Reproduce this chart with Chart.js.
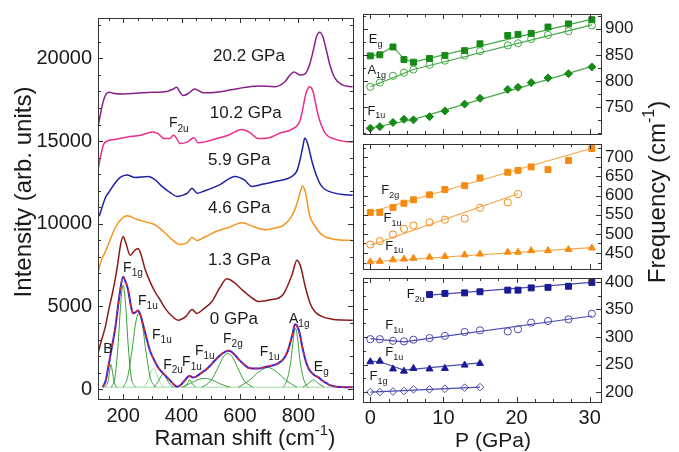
<!DOCTYPE html>
<html>
<head>
<meta charset="utf-8">
<title>Raman spectra under pressure</title>
<script src="https://cdn.jsdelivr.net/npm/chart.js@4.4.1/dist/chart.umd.min.js"></script>
<style>
  body { margin: 0; background: #fff; }
  .fig { position: relative; width: 679px; height: 452px; }
  .fig canvas { position: absolute; left: 0; top: 0; }
</style>
</head>
<body>
<div class="fig">
  <canvas id="spectra" width="679" height="452"></canvas>
  <canvas id="freqTop" width="679" height="452"></canvas>
  <canvas id="freqMid" width="679" height="452"></canvas>
  <canvas id="freqBot" width="679" height="452"></canvas>
</div>
<script>
const FONT = '"Liberation Sans", Arial, Helvetica, sans-serif';
Chart.defaults.font.family = FONT;
Chart.defaults.color = '#1a1a1a';
Chart.defaults.animation = false;
Chart.defaults.responsive = false;
Chart.defaults.plugins.legend.display = false;
Chart.defaults.plugins.tooltip.enabled = false;

// ---------- left panel: spectra, [Raman shift cm-1, intensity] ----------
const ramanTicks = [200, 400, 600, 800];
const intensityTicks = [0, 5000, 10000, 15000, 20000];

const spec20_2 = [[114,15850],[122,16600],[132,17400],[142,17850],[152,17950],[170,17880],[200,17850],[250,17900],[300,17950],[350,18000],[372,18150],[383,18250],[395,17950],[406,17750],[425,17900],[445,18150],[458,18050],[475,17920],[520,17950],[570,18100],[620,18250],[665,18330],[720,18290],[754,18590],[771,18990],[785,19180],[805,19000],[822,19050],[838,19600],[850,20400],[862,21300],[873,21580],[884,21300],[893,20700],[908,19600],[925,18800],[950,18400],[986,18280]];
const spec10_2 = [[114,13250],[122,14000],[132,14750],[145,15000],[170,15100],[215,15250],[260,15350],[300,15550],[320,15450],[340,15150],[360,15150],[372,15350],[380,15250],[395,14850],[420,14950],[443,15200],[456,14900],[480,14950],[520,15150],[560,15350],[607,15700],[635,15500],[663,15150],[700,15200],[740,15500],[777,15710],[805,16210],[828,17990],[839,18290],[850,17990],[867,16610],[890,15530],[925,15120],[960,14980],[986,14940]];
const spec5_9 = [[118,10450],[128,11000],[140,11600],[155,12000],[170,12400],[190,12800],[213,12950],[241,12800],[286,12860],[310,12650],[333,12260],[360,11900],[385,11650],[400,11700],[420,11850],[436,12150],[453,11850],[480,12000],[530,12350],[583,12860],[615,12650],[641,12260],[680,12400],[720,12560],[778,12860],[795,13200],[805,13810],[815,14640],[822,15180],[832,14820],[846,13810],[863,12860],[880,12260],[925,11850],[960,11760],[986,11730]];
const spec4_6 = [[114,6950],[122,7600],[138,8270],[155,9000],[173,9760],[195,10300],[213,10480],[251,10240],[280,10100],[309,9940],[340,9500],[367,9050],[395,8750],[419,8850],[436,9170],[453,8990],[480,9200],[520,9550],[559,9760],[607,10060],[650,9800],[686,9640],[720,9750],[747,9880],[778,10480],[795,11200],[806,11900],[814,12280],[824,11900],[839,10480],[856,9880],[880,9340],[925,9050],[986,8990]];
const spec1_3 = [[114,2150],[125,2900],[138,3690],[152,4900],[166,6010],[180,7400],[192,8800],[200,9230],[210,8800],[224,8090],[240,8400],[251,8510],[262,8100],[275,7260],[292,6500],[309,5890],[330,5300],[344,4880],[365,4450],[388,4170],[415,4400],[436,4820],[453,4580],[475,4850],[504,5300],[530,6100],[555,6670],[580,6450],[607,6010],[635,5600],[663,5300],[705,5400],[747,5710],[778,6900],[795,7800],[808,7400],[822,6310],[840,5200],[856,4700],[880,4400],[915,4230],[950,4180],[986,4170]];
const spec0 = [[130,120],[140,500],[149,1310],[160,2400],[173,3690],[187,5600],[200,6790],[208,6500],[217,6010],[226,5100],[234,4580],[243,4650],[251,4760],[259,4500],[268,3930],[280,3100],[292,2320],[305,1800],[320,1310],[337,950],[354,650],[370,350],[385,150],[400,300],[412,540],[422,750],[429,800],[438,700],[450,760],[465,950],[480,1130],[497,1400],[514,1730],[532,2050],[549,2260],[560,2320],[572,2250],[593,1850],[610,1550],[627,1310],[645,1250],[663,1250],[680,1310],[696,1370],[714,1450],[730,1550],[748,1800],[764,2320],[775,3000],[781,3390],[788,3930],[795,3850],[805,3330],[813,2600],[822,1900],[830,1450],[839,1130],[856,830],[870,700],[880,540],[895,380],[908,240],[930,150],[960,120],[986,110]];

// fitted components of the 0 GPa spectrum
const peakB    = [[138,120],[148,450],[154,1100],[158,1500],[163,1100],[169,450],[178,120]];
const peakF1g  = [[160,120],[172,700],[182,2500],[192,5200],[200,6300],[208,5200],[218,2500],[228,700],[242,120]];
const peakF1uA = [[200,120],[215,700],[230,2300],[243,4000],[254,4600],[265,4000],[278,2300],[293,700],[310,120]];
const peakF1uB = [[270,120],[285,500],[298,1150],[305,1250],[313,1000],[325,450],[340,120]];
const peakF2u  = [[305,120],[320,450],[332,850],[338,900],[348,650],[360,300],[372,120]];
const peakF1uC = [[410,120],[420,350],[428,580],[436,350],[448,120]];
const peakF1uD = [[400,120],[430,350],[460,600],[480,650],[505,550],[535,300],[565,120]];
const peakF2g  = [[470,120],[500,500],[525,1300],[545,2000],[558,2150],[572,2000],[592,1300],[615,500],[645,120]];
const peakF1uE = [[595,120],[630,500],[665,1050],[696,1310],[725,1050],[760,500],[795,120]];
const peakA1g  = [[748,120],[762,600],[775,1800],[783,3100],[790,3690],[797,3100],[805,1800],[818,600],[832,120]];
const peakEg   = [[815,120],[835,350],[852,560],[868,350],[888,120]];
const fitBase  = [[130,120],[986,120]];

// ---------- right panels: mode frequency (cm-1) vs pressure (GPa) ----------
const pressure = [0, 1.3, 3.1, 4.6, 5.9, 8.1, 10.2, 12.9, 15.0, 18.8, 20.2, 22.0, 24.3, 27.1, 30.3];
const pressureTicks = [0, 10, 20, 30];

const topEg   = [848, 850, 865, 841, 836, 843, 849, 858, 871, 887, 889, 891, 903, 909, 917];
const topA1g  = [789, 797, 810, 816, 822, 831, 839, 849, 857, 868, 872, 880, 888, 895, 906];
const topF1u  = [710, 713, 721, 727, 726, 732, 743, 756, 767, 784, 788, 797, 806, 814, 827];
const midF2g  = [556, 556, 569, 580, 589, 602, 616, 626, 646, 661, 666, 675, 668, 692, 723];
const midF1uA = [472, 481, 498, 513, 522, 530, 537, 540, 568, 582, 604, null, null, null, null];
const midF1uB = [427, 428, 432, 434, 436, 439, 441, 445, 447, 452, 452, 456, 456, 459, 463];
const botF2u  = [null, null, null, null, null, 377, 379, 380, 382, 385, 385, 389, 390, 392, 399];
const botF1uA = [296, 296, 293, 292, 295, 298, 302, 309, 312, 310, 314, 326, 329, 332, 342];
const botF1uB = [255, 256, 242, 238, 243, 242, 243, 249, 252, null, null, null, null, null, null];
const botF1g  = [200, 200, 201, 202, 205, 205, 206, 208, 209, null, null, null, null, null, null];

// guide lines through the points, [P, frequency]
const lineEg   = [[0,848],[1.3,851],[3.1,866],[4.6,842],[5.9,836],[30.3,918]];
const lineA1g  = [[0,789],[5.9,822],[30.3,907]];
const lineF1uT = [[0,710],[5.9,727],[30.3,828]];
const lineF2g  = [[0,557],[30.3,724]];
const lineF1uM = [[0,470],[20.2,605]];
const lineF1uL = [[0,427],[30.3,464]];
const lineF2u  = [[8.1,376],[30.3,399]];
const lineF1uB = [[0,297],[4.6,291],[30.3,338]];
const lineF1uR = [[0,256],[1.3,255],[4.6,240],[15,253]];
const lineF1g  = [[0,200],[15,209]];

const freqTicksTop = [750, 800, 850, 900];
const freqTicksMid = [450, 500, 550, 600, 650, 700];
const freqTicksBot = [200, 250, 300, 350, 400];

// ---------- helpers ----------
const xy = pts => pts.map(([x, y]) => ({ x, y }));
const byP = vals => pressure.map((p, i) => ({ x: p, y: vals[i] })).filter(d => d.y !== null);
const plain = v => String(v);

function richText(ctx, x, y, parts, size, align, angle) {
  const small = Math.round(size * 0.68);
  const fontOf = p => `${p.sub || p.sup ? small : size}px ${FONT}`;
  let total = 0;
  parts.forEach(p => { ctx.font = fontOf(p); p.w = ctx.measureText(p.t).width; total += p.w; });
  ctx.save();
  ctx.translate(x, y);
  if (angle) ctx.rotate(angle);
  ctx.textAlign = 'left';
  ctx.textBaseline = 'alphabetic';
  let cx = align === 'center' ? -total / 2 : 0;
  parts.forEach(p => {
    ctx.font = fontOf(p);
    const dy = p.sub ? size * 0.3 : p.sup ? -size * 0.45 : 0;
    ctx.fillText(p.t, cx, dy);
    cx += p.w;
  });
  ctx.restore();
}

// box + inward ticks on all four sides
const framePlugin = {
  id: 'frame',
  afterDraw(chart, args, o) {
    const { ctx, chartArea: a } = chart;
    const x = chart.scales.x, y = chart.scales.y;
    const near = (list, v) => list.some(m => Math.abs(m - v) < 1e-6);
    ctx.save();
    ctx.strokeStyle = '#333';
    ctx.lineWidth = 1;
    ctx.strokeRect(Math.round(a.left) + 0.5, Math.round(a.top) + 0.5, Math.round(a.right - a.left), Math.round(a.bottom - a.top));
    ctx.beginPath();
    for (let v = Math.ceil(x.min / o.xStep) * o.xStep; v <= x.max; v += o.xStep) {
      const p = Math.round(x.getPixelForValue(v)) + 0.5;
      const len = near(o.xMajor, v) ? 5 : 3;
      ctx.moveTo(p, a.bottom); ctx.lineTo(p, a.bottom - len);
      ctx.moveTo(p, a.top); ctx.lineTo(p, a.top + len);
    }
    for (let v = Math.ceil(y.min / o.yStep) * o.yStep; v <= y.max; v += o.yStep) {
      const p = Math.round(y.getPixelForValue(v)) + 0.5;
      const len = near(o.yMajor, v) ? 5 : 3;
      ctx.moveTo(a.left, p); ctx.lineTo(a.left + len, p);
      ctx.moveTo(a.right, p); ctx.lineTo(a.right - len, p);
    }
    ctx.stroke();
    ctx.restore();
  }
};

// mode labels placed in data coordinates, titles in page pixels
const textPlugin = {
  id: 'texts',
  afterDraw(chart, args, o) {
    const { ctx } = chart;
    const x = chart.scales.x, y = chart.scales.y;
    ctx.save();
    ctx.fillStyle = '#1a1a1a';
    (o.labels || []).forEach(l => {
      const size = l.size || o.size;
      const parts = [{ t: l.t }];
      if (l.sub) parts.push({ t: l.sub, sub: true });
      richText(ctx, x.getPixelForValue(l.x), y.getPixelForValue(l.y) + size * 0.36, parts, size, 'left', 0);
    });
    (o.titles || []).forEach(t => richText(ctx, t.px, t.py, t.parts, t.size, 'center', t.angle || 0));
    ctx.restore();
  }
};

const noGrid = { display: false, drawTicks: false };
const noBorder = { display: false };

function line(pts, color, width, extra) {
  return Object.assign({
    data: xy(pts), borderColor: color, borderWidth: width, pointRadius: 0,
    cubicInterpolationMode: 'monotone', fill: false
  }, extra || {});
}
function straight(pts, color) {
  return { data: xy(pts), borderColor: color, borderWidth: 1.2, pointRadius: 0, tension: 0, fill: false };
}
function marks(vals, color, style, open, r) {
  return {
    data: byP(vals), showLine: false, pointStyle: style, pointRadius: r,
    pointBackgroundColor: open ? 'rgba(255,255,255,0)' : color,
    pointBorderColor: color, pointBorderWidth: 1
  };
}

// ---------- left chart ----------
const GREEN = '#35a035', LIGHTGREEN = '#9fd69f';
new Chart(document.getElementById('spectra'), {
  type: 'line',
  data: {
    datasets: [
      line(spec0, '#e3262b', 1.5, { borderDash: [4, 3] }),
      line(spec0, '#2626f0', 2),
      line(peakB, GREEN, 1), line(peakF1g, GREEN, 1), line(peakF1uA, GREEN, 1),
      line(peakF1uB, LIGHTGREEN, 1), line(peakF2u, GREEN, 1), line(peakF1uC, GREEN, 1),
      line(peakF1uD, GREEN, 1), line(peakF2g, GREEN, 1), line(peakF1uE, GREEN, 1),
      line(peakA1g, GREEN, 1), line(peakEg, GREEN, 1), line(fitBase, LIGHTGREEN, 1),
      line(spec1_3, '#8b1a1a', 1.5),
      line(spec4_6, '#f7931e', 1.5),
      line(spec5_9, '#1f22a3', 1.5),
      line(spec10_2, '#ec2d8c', 1.5),
      line(spec20_2, '#86218b', 1.5)
    ]
  },
  options: {
    layout: { padding: { left: 0, right: 326, top: 12, bottom: 0 } },
    scales: {
      x: {
        type: 'linear', min: 114, max: 987,
        afterFit: s => { s.height = 53; },
        afterBuildTicks: s => { s.ticks = ramanTicks.map(v => ({ value: v })); },
        grid: noGrid, border: noBorder,
        ticks: { padding: 5, font: { size: 20 }, color: '#1a1a1a', callback: plain }
      },
      y: {
        min: -595, max: 22440,
        afterFit: s => { s.width = 98; },
        afterBuildTicks: s => { s.ticks = intensityTicks.map(v => ({ value: v })); },
        grid: noGrid, border: noBorder,
        ticks: { padding: 6, font: { size: 20 }, color: '#1a1a1a', callback: plain }
      }
    },
    plugins: {
      frame: { xStep: 50, xMajor: ramanTicks, yStep: 1000, yMajor: intensityTicks },
      texts: {
        size: 14,
        labels: [
          { t: '20.2 GPa', x: 508, y: 20240, size: 17 },
          { t: '10.2 GPa', x: 497, y: 16785, size: 17 },
          { t: '5.9 GPa', x: 491, y: 13930, size: 17 },
          { t: '4.6 GPa', x: 491, y: 11010, size: 17 },
          { t: '1.3 GPa', x: 491, y: 7860, size: 17 },
          { t: '0 GPa', x: 497, y: 4285, size: 17 },
          { t: 'F', sub: '2u', x: 357, y: 16130 },
          { t: 'B', x: 132, y: 2500 },
          { t: 'F', sub: '1g', x: 200, y: 7380 },
          { t: 'F', sub: '1u', x: 251, y: 5420 },
          { t: 'F', sub: '1u', x: 299, y: 3330 },
          { t: 'F', sub: '2u', x: 337, y: 1550 },
          { t: 'F', sub: '1u', x: 402, y: 1730 },
          { t: 'F', sub: '1u', x: 446, y: 2380 },
          { t: 'F', sub: '2g', x: 542, y: 3100 },
          { t: 'F', sub: '1u', x: 668, y: 2320 },
          { t: 'A', sub: '1g', x: 768, y: 4290 },
          { t: 'E', sub: 'g', x: 853, y: 1430 }
        ],
        titles: [
          { px: 245, py: 445, size: 22, parts: [{ t: 'Raman shift (cm' }, { t: '-1', sup: true }, { t: ')' }] },
          { px: 31, py: 192, size: 24, angle: -Math.PI / 2, parts: [{ t: 'Intensity (arb. units)' }] }
        ]
      }
    }
  },
  plugins: [framePlugin, textPlugin]
});

// ---------- right charts ----------
function freqChart(id, top, bottom, yMin, yMax, yTicks, datasets, labels, showX, titles) {
  return new Chart(document.getElementById(id), {
    type: 'line',
    data: { datasets },
    options: {
      layout: { padding: { left: 363, right: 0, top: top, bottom: showX ? 0 : 452 - bottom } },
      scales: {
        x: {
          type: 'linear', min: -1, max: 31.55, display: showX,
          afterFit: s => { s.height = showX ? 452 - bottom : 0; },
          afterBuildTicks: s => { s.ticks = pressureTicks.map(v => ({ value: v })); },
          grid: noGrid, border: noBorder,
          ticks: { padding: 4, font: { size: 20 }, color: '#1a1a1a', callback: plain }
        },
        y: {
          position: 'right', min: yMin, max: yMax,
          afterFit: s => { s.width = 78; },
          afterBuildTicks: s => { s.ticks = yTicks.map(v => ({ value: v })); },
          grid: noGrid, border: noBorder,
          ticks: { padding: 4, font: { size: 17 }, color: '#1a1a1a', callback: plain }
        }
      },
      plugins: {
        frame: { xStep: 2.5, xMajor: pressureTicks, yStep: 25, yMajor: yTicks },
        texts: { size: 13, labels, titles: titles || [] }
      }
    },
    plugins: [framePlugin, textPlugin]
  });
}

const G = '#168a16', GL = '#45a845';
freqChart('freqTop', 10, 134, 699, 927.5, freqTicksTop, [
  marks(topEg, G, 'rect', false, 4.2),
  marks(topA1g, GL, 'circle', true, 3.6),
  marks(topF1u, G, 'rectRot', false, 4),
  straight(lineEg, GL),
  straight(lineA1g, GL),
  straight(lineF1uT, GL)
], [
  { t: 'E', sub: 'g', x: -0.2, y: 882 },
  { t: 'A', sub: '1g', x: -0.4, y: 823 },
  { t: 'F', sub: '1u', x: -0.4, y: 745 }
], false);

const O = '#f58a12', OL = '#f5a445';
freqChart('freqMid', 144, 269, 408, 735, freqTicksMid, [
  marks(midF2g, O, 'rect', false, 4.2),
  marks(midF1uA, O, 'circle', true, 3.6),
  marks(midF1uB, O, 'triangle', false, 4),
  straight(lineF2g, OL),
  straight(lineF1uM, OL),
  straight(lineF1uL, OL)
], [
  { t: 'F', sub: '2g', x: 1.5, y: 616 },
  { t: 'F', sub: '1u', x: 1.8, y: 543 },
  { t: 'F', sub: '1u', x: 2.05, y: 471 }
], false, [
  { px: 665, py: 192, size: 24, angle: -Math.PI / 2, parts: [{ t: 'Frequency (cm' }, { t: '-1', sup: true }, { t: ')' }] }
]);

const B = '#1a1a96', BL = '#4a4ab0';
freqChart('freqBot', 278, 402, 182, 407, freqTicksBot, [
  marks(botF2u, B, 'rect', false, 4.2),
  marks(botF1uA, BL, 'circle', true, 3.6),
  marks(botF1uB, B, 'triangle', false, 4),
  marks(botF1g, BL, 'rectRot', true, 3.8),
  straight(lineF2u, BL),
  straight(lineF1uB, BL),
  straight(lineF1uR, BL),
  straight(lineF1g, BL)
], [
  { t: 'F', sub: '2u', x: 5.0, y: 378.7 },
  { t: 'F', sub: '1u', x: 2.05, y: 322.6 },
  { t: 'F', sub: '1u', x: 2.05, y: 273.8 },
  { t: 'F', sub: '1g', x: -0.1, y: 230 }
], true, [
  { px: 493, py: 447, size: 21, parts: [{ t: 'P (GPa)' }] }
]);
</script>
</body>
</html>
